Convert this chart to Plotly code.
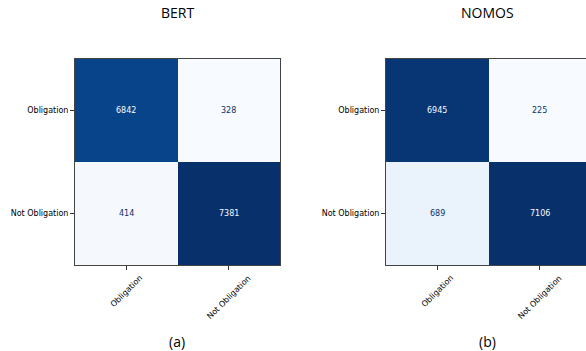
import plotly.graph_objects as go
import plotly.express as px

labels = ["Obligation", "Not Obligation"]
bert_cm = [[6842, 328], [414, 7381]]
nomos_cm = [[6945, 225], [689, 7106]]
titles = ["BERT", "NOMOS"]
captions = ["(a)", "(b)"]

blues = px.colors.sequential.Blues
W, H = 586, 351
FONT = "DejaVu Sans"
TFONT = "Open Sans"

fig = go.Figure()

panels = [
    dict(cm=bert_cm, xa="x", ya="y", xd=[75 / W, 280 / W], xr=[-0.5, 1.5], cx=177 / W),
    dict(cm=nomos_cm, xa="x2", ya="y2", xd=[386 / W, 1.0], xr=[-0.5, -0.5 + 200 / 102.5], cx=487 / W),
]
yd = [1 - 265 / H, 1 - 59 / H]

annotations = []
for i, p in enumerate(panels):
    cm = p["cm"]
    flat = [v for row in cm for v in row]
    zmin, zmax = min(flat), max(flat)
    fig.add_trace(go.Heatmap(
        z=cm, x=[0, 1], y=[0, 1], colorscale=blues, zmin=zmin, zmax=zmax,
        showscale=False, xaxis=p["xa"], yaxis=p["ya"], hoverinfo="skip",
    ))
    mid = (zmin + zmax) / 2
    for r in range(2):
        for c in range(2):
            v = cm[r][c]
            annotations.append(dict(
                x=c, y=r, xref=p["xa"], yref=p["ya"], text=str(v), showarrow=False,
                font=dict(family=FONT, size=8, color="#f7fbff" if v > mid else "#08306b"),
            ))
    for c, lab in enumerate(labels):
        annotations.append(dict(
            x=c, y=1 - 271 / H, xref=p["xa"], yref="paper", text=lab, showarrow=False,
            textangle=-45, xanchor="center", yanchor="top",
            font=dict(family=FONT, size=8, color="#000"),
        ))
    annotations.append(dict(x=p["cx"], y=1 - 13 / H, xref="paper", yref="paper",
                            text=titles[i], showarrow=False,
                            font=dict(family=TFONT, size=14, color="#000"),
                            xanchor="center", yanchor="middle"))
    annotations.append(dict(x=p["cx"], y=1 - 341 / H, xref="paper", yref="paper",
                            text=captions[i], showarrow=False,
                            font=dict(family=TFONT, size=14, color="#000"),
                            xanchor="center", yanchor="middle"))

axis_common = dict(showgrid=False, zeroline=False, ticks="outside", ticklen=4,
                   tickcolor="#333", linecolor="#444", linewidth=1, showline=True,
                   tickfont=dict(family=FONT, size=8, color="#000"),
                   tickvals=[0, 1], ticktext=labels)

fig.update_layout(
    width=W, height=H, margin=dict(l=0, r=0, t=0, b=0),
    paper_bgcolor="white", plot_bgcolor="white",
    xaxis=dict(domain=panels[0]["xd"], range=panels[0]["xr"], anchor="y",
               mirror=True, showticklabels=False, **axis_common),
    yaxis=dict(domain=yd, range=[1.5, -0.5], anchor="x", mirror=True, **axis_common),
    xaxis2=dict(domain=panels[1]["xd"], range=panels[1]["xr"], anchor="y2",
                mirror=True, showticklabels=False, **axis_common),
    yaxis2=dict(domain=yd, range=[1.5, -0.5], anchor="x2", mirror=False, **axis_common),
    annotations=annotations,
)

fig.write_html("out.html")
